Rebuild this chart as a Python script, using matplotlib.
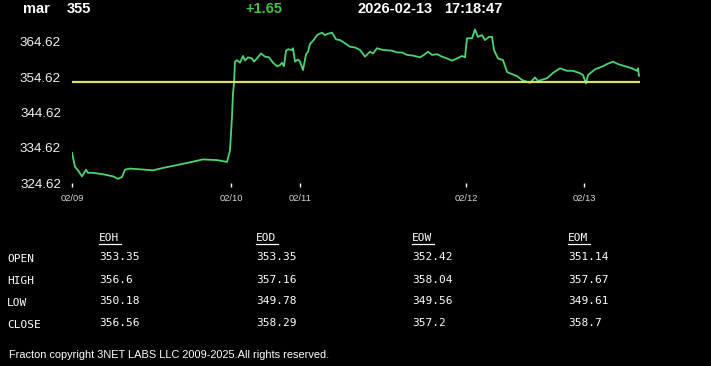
import matplotlib
matplotlib.use("Agg")
import matplotlib.pyplot as plt
from matplotlib.lines import Line2D

# ---------------- data ----------------
symbol = "mar"
last_price = "355"
change = "+1.65"
stamp_date = "2026-02-13"
stamp_time = "17:18:47"
open_price = 353.35

idx = [0, 3, 6, 10, 14, 16, 21, 31, 41, 46, 50, 53, 58, 68, 81, 91, 105, 115,
       131, 145, 155, 158, 160, 161, 162, 163, 165, 168, 171, 173, 176, 180,
       182, 185, 189, 193, 197, 201, 205, 208, 210, 212, 214, 216, 220, 221,
       223, 226, 228, 231, 234, 236, 238, 241, 245, 250, 253, 255, 260, 264,
       268, 273, 278, 283, 288, 293, 298, 301, 305, 311, 320, 325, 330, 335,
       341, 348, 352, 356, 360, 365, 370, 375, 380, 385, 390, 393, 395, 400,
       403, 406, 410, 413, 417, 420, 422, 426, 431, 435, 438, 445, 450, 458,
       463, 466, 475, 481, 488, 495, 501, 508, 511, 514, 516, 523, 531, 535,
       541, 546, 553, 560, 565, 566, 567]
price = [333.15, 329.2, 328.2, 326.5, 328.4, 327.5, 327.5, 327.1, 326.5, 325.8,
         326.3, 328.4, 328.7, 328.5, 328.2, 328.9, 329.7, 330.3, 331.3, 331.1,
         330.6, 333.9, 343.4, 350.0, 352.8, 359.0, 359.4, 358.7, 360.6, 359.3,
         360.2, 359.9, 359.0, 359.9, 361.3, 360.4, 360.2, 358.7, 357.7, 358.0,
         358.7, 357.7, 362.1, 362.5, 362.3, 362.8, 359.0, 359.6, 359.0, 356.6,
         361.1, 361.8, 364.0, 364.9, 366.5, 367.2, 366.5, 366.8, 367.2, 365.3,
         365.1, 364.2, 363.2, 363.0, 362.3, 360.4, 361.8, 361.3, 362.8, 362.3,
         362.1, 361.6, 361.6, 360.9, 360.7, 360.2, 360.9, 361.8, 360.9, 361.1,
         360.4, 359.9, 359.3, 359.9, 360.6, 360.2, 365.6, 365.6, 368.1, 366.0,
         366.5, 365.1, 366.0, 366.0, 362.3, 359.9, 359.4, 356.1, 355.7, 354.9,
         353.8, 353.0, 354.5, 353.5, 354.3, 355.8, 357.1, 356.4, 356.4, 355.7,
         355.2, 352.8, 355.2, 356.8, 357.7, 358.3, 359.0, 358.3, 357.7, 357.1,
         356.4, 357.1, 355.0]

date_tick_idx = [0, 159, 228, 394, 512]
date_tick_labels = ["02/09", "02/10", "02/11", "02/12", "02/13"]
y_ticks = [324.62, 334.62, 344.62, 354.62, 364.62]

row_labels = ["OPEN", "HIGH", "LOW", "CLOSE"]
col_labels = ["EOH", "EOD", "EOW", "EOM"]
table_values = [
    ["353.35", "353.35", "352.42", "351.14"],
    ["356.6", "357.16", "358.04", "357.67"],
    ["350.18", "349.78", "349.56", "349.61"],
    ["356.56", "358.29", "357.2", "358.7"],
]
footer = "Fracton copyright 3NET LABS LLC 2009-2025.All rights reserved."

# ---------------- figure ----------------
W, H = 711, 366
fig = plt.figure(figsize=(W / 100, H / 100), dpi=100, facecolor="black")

def fx(px):
    return px / W

def fy(py):
    return 1 - py / H

ax = fig.add_axes([fx(72), fy(183), fx(640) - fx(72), fy(28) - fy(183)])
ax.set_facecolor("black")
ax.plot(idx, price, color="#4cd472", lw=1.3, solid_joinstyle="round")
ax.axhline(open_price, color="#d6e35e", lw=1.6)
ax.set_xlim(0, 568)
ax.set_ylim(324.62, 368.52)
for s in ax.spines.values():
    s.set_visible(False)
ax.set_yticks(y_ticks)
ax.set_yticklabels([f"{v:.2f}" for v in y_ticks])
ax.tick_params(axis="y", length=0, pad=8, labelsize=9.6, labelcolor="#f2f2f2")
ax.set_xticks(date_tick_idx)
ax.set_xticklabels(date_tick_labels)
ax.tick_params(axis="x", length=3, width=1, color="white", pad=5,
               labelsize=6.7, labelcolor="#d8d8d8")
for lab in ax.get_xticklabels() + ax.get_yticklabels():
    lab.set_fontfamily("Liberation Sans")

# header
hdr = dict(fontfamily="Liberation Sans", fontweight="bold", fontsize=10.5,
           va="center", ha="left")
fig.text(fx(23), fy(9), symbol, color="white", **hdr)
fig.text(fx(67), fy(9), last_price, color="white", **hdr)
fig.text(fx(245), fy(9), change, color="#3ec43e", **hdr)
fig.text(fx(357), fy(9), stamp_date, color="white", **hdr)
fig.text(fx(444), fy(9), stamp_time, color="white", **hdr)

# table
mono = dict(fontfamily="DejaVu Sans Mono", fontsize=8, color="white",
            va="center", ha="left")
col_x = [99, 256, 412, 568]
row_y = [259.5, 281, 302.5, 324.5]
val_y = [257.5, 280, 301, 323]
for cx, cl in zip(col_x, col_labels):
    fig.text(fx(cx), fy(238), cl, **mono)
    fig.add_artist(Line2D([fx(cx), fx(cx + 22)], [fy(243.5), fy(243.5)],
                          color="white", lw=0.9, transform=fig.transFigure))
for ry, rl in zip(row_y, row_labels):
    fig.text(fx(7), fy(ry), rl, **mono)
for vy, row in zip(val_y, table_values):
    for cx, v in zip(col_x, row):
        fig.text(fx(cx), fy(vy), v, **mono)

fig.text(fx(9), fy(355), footer, fontfamily="Liberation Sans", fontsize=7.9,
         color="white", va="center", ha="left")

fig.savefig("out.png", dpi=100, facecolor="black")
